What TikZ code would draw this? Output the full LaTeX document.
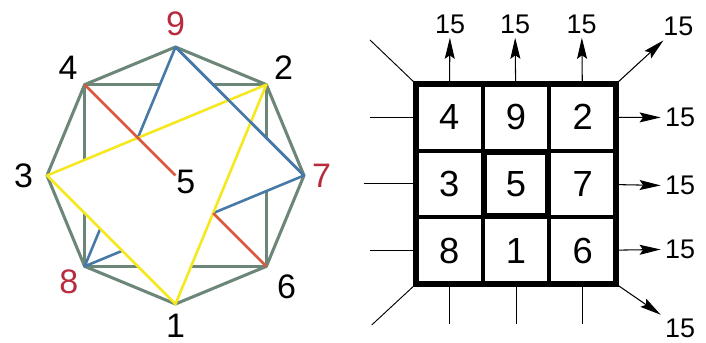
\documentclass[tikz,border=0pt]{standalone}
\usepackage{fontspec}
\setmainfont{Liberation Sans}
\usetikzlibrary{positioning,arrows.meta,calc}

\definecolor{octgreen}{RGB}{108,134,120}
\definecolor{magblue}{RGB}{70,120,168}
\definecolor{magred}{RGB}{218,88,62}
\definecolor{magyellow}{RGB}{246,232,30}
\definecolor{numred}{RGB}{184,42,62}

\begin{document}
\begin{tikzpicture}[x=0.03cm, y=0.03cm,
    octline/.style={draw=octgreen, line width=2.6pt, line join=round},
    tri/.style={line width=2.2pt, line join=round},
    vlabel/.style={font=\fontsize{29}{30}\selectfont, inner sep=0pt},
    cell/.style={draw, line width=3.2pt, minimum size=2cm, inner sep=0pt, outer sep=0pt, font=\fontsize{31}{32}\selectfont},
    total/.style={font=\fontsize{23}{24}\selectfont, inner sep=3.5pt},
    arrow/.style={-{Stealth[length=18pt,width=8.5pt,inset=3pt]}, line width=0.9pt},
    stub/.style={line width=0.8pt}
]
\useasboundingbox (0,0) rectangle (706,343);

% octagon with the inscribed square
\coordinate (c) at (175.5,167.5);
\foreach \n/\a in {9/90,2/45,7/0,6/-45,1/-90,8/-135,3/180,4/135}
    \coordinate (v\n) at ($(c)+(\a:128.5)$);
\draw[octline] (v9) -- (v2) -- (v7) -- (v6) -- (v1) -- (v8) -- (v3) -- (v4) -- cycle;
\draw[octline] (v4) -- (v2) -- (v6) -- (v8) -- cycle;

% triangles 7-8-9 and 1-2-3
\path[tri, fill=white, draw=magblue] (v9) -- (v7) -- (v8) -- cycle;
\path[tri, fill=white, draw=magyellow] (v1) -- (v2) -- (v3) -- cycle;
\draw[tri, magblue] (v9) -- (v7);

% line 4-5-6
\coordinate (m) at (intersection of v2--v1 and v6--v4);
\draw[tri, magred] (v4) -- (c);
\draw[tri, magred] (v6) -- (m);

\foreach \n/\a/\r/\col in {9/90/152/numred, 2/45/153/black, 7/0/146/numred,
    6/-45/157/black, 1/-90/150/black, 8/-135/151/numred, 3/180/152/black, 4/135/152/black}
    \node[vlabel, text=\col] (n\n) at ($(c)+(\a:\r)$) {\n};
\node[vlabel] (n5) at (185.7,161.3) {5};

% magic square
\foreach \n [count=\i from 0] in {4,9,2,3,5,7,8,1,6}
    \node[cell] (g\n) at ({449.3+66.67*mod(\i,3)}, {225.7-66.67*floor(\i/3)}) {\n};
\draw[line width=4.5pt] (g4.north west) rectangle (g6.south east);
\draw[line width=4.3pt] ($(g5.north west)+(2,-2)$) rectangle ($(g5.south east)+(-2,2)$);

% sums
\node[total] (s1) at (450,319) {15};
\node[total] (s2) at (515,319) {15};
\node[total] (s3) at (581.7,319) {15};
\node[total] (s4) at (678.3,316.3) {15};
\node[total] (s5) at (680,225.5) {15};
\node[total] (s6) at (680,157.2) {15};
\node[total] (s7) at (680,93.8) {15};
\node[total] (s8) at (680,15) {15};

\draw[arrow] (g4) -- (s1);
\draw[arrow] (g9) -- (s2);
\draw[arrow] (g2) -- (s3);
\draw[arrow] (g2.north east) -- (s4);
\draw[arrow] (g2) -- (s5);
\draw[arrow] (g7) -- (s6);
\draw[arrow] (g6) -- (s7);
\draw[arrow] (g6.south east) -- (s8);

% lines coming in
\coordinate (l1) at ($(g4.west)+(-46,0)$);
\coordinate (l2) at ($(g3.west)+(-52,0)$);
\coordinate (l3) at ($(g8.west)+(-46,0)$);
\coordinate (b1) at ($(g8.south)+(0,-40)$);
\coordinate (b2) at ($(g1.south)+(0,-40)$);
\coordinate (b3) at ($(g6.south)+(0,-40)$);
\coordinate (d1) at (370,303);
\coordinate (d2) at (371.7,18);
\draw[stub] (l1) -- (g4.west);
\draw[stub] (l2) -- (g3.west);
\draw[stub] (l3) -- (g8.west);
\draw[stub] (b1) -- (g8.south);
\draw[stub] (b2) -- (g1.south);
\draw[stub] (b3) -- (g6.south);
\draw[stub] (d1) -- (g4.north west);
\draw[stub] (d2) -- (g8.south west);
\end{tikzpicture}
\end{document}
